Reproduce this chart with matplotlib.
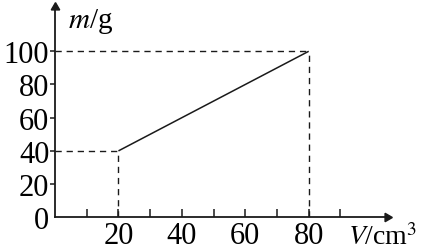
import matplotlib.pyplot as plt

plt.rcParams['font.family'] = ['Liberation Serif', 'DejaVu Serif']
plt.rcParams['mathtext.fontset'] = 'stix'

# data
volume = [20, 80]          # V / cm^3
mass = [40, 100]           # m / g
x_ticks = [10, 20, 30, 40, 50, 60, 70, 80, 90]
x_labels = ['', '20', '', '40', '', '60', '', '80', '']
y_ticks = [0, 20, 40, 60, 80, 100]

fig = plt.figure(figsize=(4.29, 2.51), dpi=100)
ax = fig.add_axes([0.1282, 0.1303, 0.774, 0.838])
ax.set_xlim(0, 104.7)
ax.set_ylim(0, 126.7)

ink = '#1a1a1a'
# solid line
ax.plot(volume, mass, color=ink, lw=1.1, solid_capstyle='butt')
# dashed guide lines
dash = dict(color=ink, lw=1.0, dashes=(4.5, 3.5))
for v, m in zip(volume, mass):
    ax.plot([0, v], [m, m], **dash)
    ax.plot([v, v], [0, m], **dash)

for side in ['top', 'right']:
    ax.spines[side].set_visible(False)
for side in ['left', 'bottom']:
    ax.spines[side].set_linewidth(1.3)
    ax.spines[side].set_color(ink)

# arrow heads
ax.plot(1, 0, marker=(3, 0, -90), ms=7, color=ink, transform=ax.transAxes, clip_on=False)
ax.plot(0, 1, marker=(3, 0, 0), ms=7, color=ink, transform=ax.transAxes, clip_on=False)

ax.set_xticks(x_ticks)
ax.set_xticklabels(x_labels)
ax.set_yticks(y_ticks)
ax.set_yticklabels([str(t) for t in y_ticks])
ax.tick_params(axis='x', direction='in', length=5.5, width=1.1, color=ink, pad=3, labelsize=22)
ax.tick_params(axis='y', direction='out', length=3.6, width=1.1, color=ink, pad=0.5, labelsize=22)
ax.yaxis.get_major_ticks()[0].tick1line.set_visible(False)

fig.text(68 / 429, 1 - 21 / 251, r'$m$/g', fontsize=21, va='center', ha='left')
fig.text(348 / 429, 1 - 238 / 251, r'$V$/cm$^3$', fontsize=20, va='center', ha='left')

fig.savefig('out.png', dpi=100)
